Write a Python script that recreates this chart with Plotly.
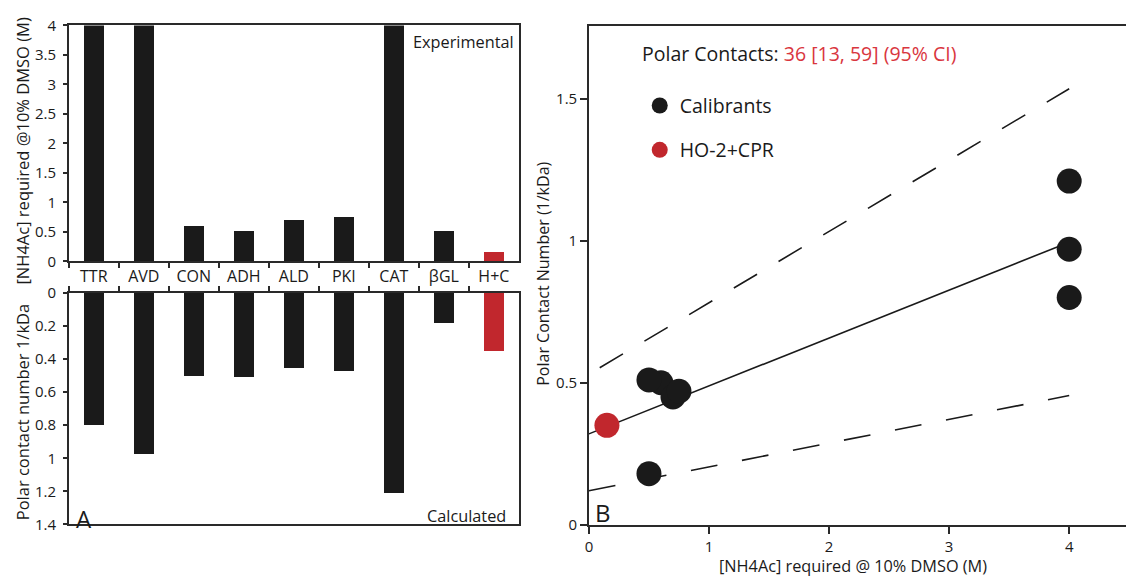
import plotly.graph_objects as go

# Proteins (category labels, left panel)
categories = ["TTR", "AVD", "CON", "ADH", "ALD", "PKI", "CAT", "βGL", "H+C"]
# [NH4Ac] required at 10% DMSO (M), experimental
nh4ac_required = [4, 4, 0.6, 0.5, 0.7, 0.75, 4, 0.5, 0.15]
# Calculated polar contact number (1/kDa)
polar_contact = [0.80, 0.97, 0.50, 0.51, 0.45, 0.47, 1.21, 0.18, 0.35]
# Which entries are calibrants (the last one is the HO-2+CPR complex)
is_calibrant = [True, True, True, True, True, True, True, True, False]

# Calibration fit and 95% prediction band (right panel)
fit_x = [0, 4]
fit_y = [0.32, 0.995]
upper_x = [0.09, 4]
upper_y = [0.553, 1.535]
lower_x = [0, 4]
lower_y = [0.12, 0.455]

W, H = 1126, 584
FONT = "Open Sans"
INK = "#1a1a1a"
AXIS = "#2a2a2a"
RED = "#c1272d"
RED_TEXT = "#d9363e"


def px(x):
    return x / W


def py(y):
    return (H - y) / H


bar_colors = [INK if c else RED for c in is_calibrant]
cal_x = [x for x, c in zip(nh4ac_required, is_calibrant) if c]
cal_y = [y for y, c in zip(polar_contact, is_calibrant) if c]
cpr_x = [x for x, c in zip(nh4ac_required, is_calibrant) if not c]
cpr_y = [y for y, c in zip(polar_contact, is_calibrant) if not c]

fig = go.Figure()

# Panel A, top: experimental ammonium acetate requirement
fig.add_trace(go.Bar(x=categories, y=nh4ac_required, marker_color=bar_colors,
                     marker_line_width=0, width=0.4, showlegend=False,
                     xaxis="x", yaxis="y"))
# Panel A, bottom: calculated polar contact number (drawn downward)
fig.add_trace(go.Bar(x=categories, y=polar_contact, marker_color=bar_colors,
                     marker_line_width=0, width=0.4, showlegend=False,
                     xaxis="x2", yaxis="y2"))

# Panel B: fit line and prediction band
dash_style = "27px,25px"
fig.add_trace(go.Scatter(x=upper_x, y=upper_y, mode="lines",
                         line=dict(color=INK, width=1.6, dash=dash_style),
                         showlegend=False, xaxis="x3", yaxis="y3"))
fig.add_trace(go.Scatter(x=lower_x, y=lower_y, mode="lines",
                         line=dict(color=INK, width=1.6, dash=dash_style),
                         showlegend=False, xaxis="x3", yaxis="y3"))
fig.add_trace(go.Scatter(x=fit_x, y=fit_y, mode="lines",
                         line=dict(color=INK, width=1.6),
                         showlegend=False, xaxis="x3", yaxis="y3"))
# Panel B: points
fig.add_trace(go.Scatter(x=cal_x, y=cal_y, mode="markers", name="Calibrants",
                         legendgroup="cal",
                         marker=dict(color=INK, size=25, line_width=0),
                         xaxis="x3", yaxis="y3"))
fig.add_trace(go.Scatter(x=cpr_x, y=cpr_y, mode="markers", name="HO-2+CPR",
                         legendgroup="cpr",
                         marker=dict(color=RED, size=25, line_width=0),
                         xaxis="x3", yaxis="y3"))

axis_common = dict(showline=True, linecolor=AXIS, linewidth=1.5,
                   tickcolor=AXIS, tickwidth=1.5, showgrid=False,
                   zeroline=False, tickfont=dict(family=FONT, size=15, color=INK))

left_dom = [px(65), px(516.7)]
fig.update_layout(
    width=W, height=H,
    margin=dict(l=0, r=0, t=0, b=0),
    paper_bgcolor="white", plot_bgcolor="white",
    font=dict(family=FONT, color=INK),
    bargap=0,
    xaxis=dict(domain=left_dom, anchor="y", type="category",
               categoryorder="array", categoryarray=categories,
               range=[-0.5, 8.5], ticks="outside", ticklen=5,
               tickson="boundaries", mirror=True,
               **{**axis_common, "tickfont": dict(family=FONT, size=16, color=INK)}),
    yaxis=dict(domain=[py(259.3), py(15)], anchor="x", range=[0, 4],
               tickvals=[0, 0.5, 1, 1.5, 2, 2.5, 3, 3.5, 4],
               ticks="outside", ticklen=4, ticklabelstandoff=4, mirror=True,
               **axis_common),
    xaxis2=dict(domain=left_dom, anchor="y2", type="category", side="top",
                categoryorder="array", categoryarray=categories,
                range=[-0.5, 8.5], ticks="outside", ticklen=5,
                tickson="boundaries", showticklabels=False, mirror=True,
                **axis_common),
    yaxis2=dict(domain=[py(531.7), py(291.7)], anchor="x2", range=[1.4, 0],
                tickvals=[0, 0.2, 0.4, 0.6, 0.8, 1, 1.2, 1.4],
                ticks="outside", ticklen=4, ticklabelstandoff=4, mirror=True,
                **axis_common),
    xaxis3=dict(domain=[px(587), 1.0], anchor="y3", range=[0, 4.473],
                tickvals=[0, 1, 2, 3, 4], ticks="outside", ticklen=7,
                mirror=True, **axis_common),
    yaxis3=dict(domain=[py(532), py(15.5)], anchor="x3", range=[0, 1.756],
                tickvals=[0, 0.5, 1, 1.5], ticks="outside", ticklen=7,
                **axis_common),
    showlegend=True,
    legend=dict(x=px(638), y=py(78), xanchor="left", yanchor="top",
                bgcolor="rgba(0,0,0,0)", tracegroupgap=16,
                font=dict(family=FONT, size=19.5, color=INK)),
)


def note(text, x, y, size, xanchor="center", yanchor="middle", angle=0, color=INK):
    fig.add_annotation(text=text, x=px(x), y=py(y), xref="paper", yref="paper",
                       xanchor=xanchor, yanchor=yanchor, textangle=angle,
                       showarrow=False, font=dict(family=FONT, size=size, color=color))


note("[NH4Ac] required @10% DMSO (M)", 18.6, 145, 16.5, angle=-90)
note("Polar contact number 1/kDa", 18.6, 416, 16.5, angle=-90)
note("Experimental", 514, 32, 16.3, xanchor="right")
note("Calculated", 506, 523, 16.3, xanchor="right")
note("A", 70, 525, 24, xanchor="left")
note("B", 591, 519, 24, xanchor="left")
note("Polar Contact Number (1/kDa)", 541, 272, 16, angle=-90)
note("[NH4Ac] required @ 10% DMSO (M)", 852, 575, 16.3)
note(f"Polar Contacts: <span style='color:{RED_TEXT}'>36 [13, 59] (95% CI)</span>",
     638, 44, 19.5, xanchor="left")

fig.write_html("out.html")
